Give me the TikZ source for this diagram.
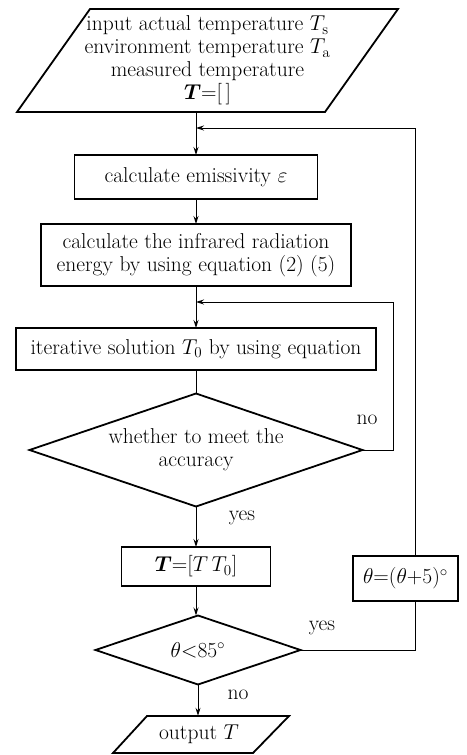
\RequirePackage{fix-cm}
\documentclass[tikz,border=0pt]{standalone}
\usepackage{bm}
\usetikzlibrary{arrows.meta,shapes.geometric,calc}
\begin{document}
\begin{tikzpicture}[x=1pt,y=-1pt,
  font=\fontsize{21.5}{23}\selectfont,
  shapeline/.style={line width=1.8pt},
  procbox/.style={draw,shapeline,rectangle,inner sep=0pt,outer sep=0pt,align=center},
  decbox/.style={draw,shapeline,diamond,inner sep=0pt,outer sep=0pt,align=center,aspect=3},
  conn/.style={line width=1pt,-{Stealth[length=8pt,width=5pt]}},
  plain/.style={line width=1pt},
  lbl/.style={inner sep=0pt}
]
\useasboundingbox (0,0) rectangle (466,755);

% input parallelogram
\node[inner sep=0pt,minimum width=235pt,minimum height=103pt,align=center] (in) at (207.5,60.5)
  {input actual temperature $T_{\mathrm{s}}$\\
   environment temperature $T_{\mathrm{a}}$\\
   measured temperature\\
   $\bm{T}$=[\,]};
\draw[shapeline] (90,9) -- (398,9) -- (325,112) -- (17,112) -- cycle;

\node[procbox,minimum width=243pt,minimum height=44pt] (e1) at (196,177) {calculate emissivity $\varepsilon$};
\node[procbox,minimum width=310pt,minimum height=62pt] (e2) at (196,255)
  {calculate the infrared radiation\\energy by using equation (2) (5)};
\node[procbox,minimum width=360pt,minimum height=42pt] (e3) at (196,349)
  {iterative solution $T_0$ by using equation};
\node[decbox,minimum width=333pt,minimum height=113pt] (d1) at (196,450)
  {whether to meet the\\accuracy};
\node[procbox,minimum width=149pt,minimum height=39pt] (b4) at (196,566.5) {$\bm{T}$=[$T\,T_0$]};
\node[decbox,minimum width=205pt,minimum height=69pt] (d2) at (198,650) {$\theta{<}85^\circ$};
\node[procbox,minimum width=105pt,minimum height=45pt] (b5) at (405.5,578.5) {$\theta{=}(\theta{+}5)^\circ$};

% output parallelogram
\node[inner sep=0pt,minimum width=100pt,minimum height=37pt] (out) at (199,734.5) {output $T$};
\draw[shapeline] (147,716) -- (289,716) -- (253,753) -- (113,753) -- cycle;

% helper coordinates
\coordinate (inb) at (196,112);
\coordinate (c1) at (196,128);
\coordinate (c2) at (196,302);
\coordinate (rx) at (415,0);
\coordinate (ix) at (393,0);

% main flow
\draw[conn] (inb) -- (e1.north);
\draw[conn] (e1) -- (e2);
\draw[conn] (e2) -- (e3);
\draw[plain] (e3.south) -- (d1.north);
\draw[conn] (d1.south) -- (b4.north);
\draw[conn] (b4.south) -- (b4.south |- d2.north);
\draw[conn] (d2.south) -- (d2.south |- out.north);

% inner loop
\draw[conn] (d1.east) -- (d1.east -| ix) |- (c2);
% outer loop
\draw[plain] (d2.east) -- (d2.east -| rx) -- (b5.south -| rx);
\draw[conn] (b5.north -| rx) |- (c1);

% labels
\node[lbl] (l1) at (367,420) {no};
\node[lbl] (l2) at (242,518) {yes};
\node[lbl] (l3) at (322,628) {yes};
\node[lbl] (l4) at (238,695) {no};
\end{tikzpicture}
\end{document}
